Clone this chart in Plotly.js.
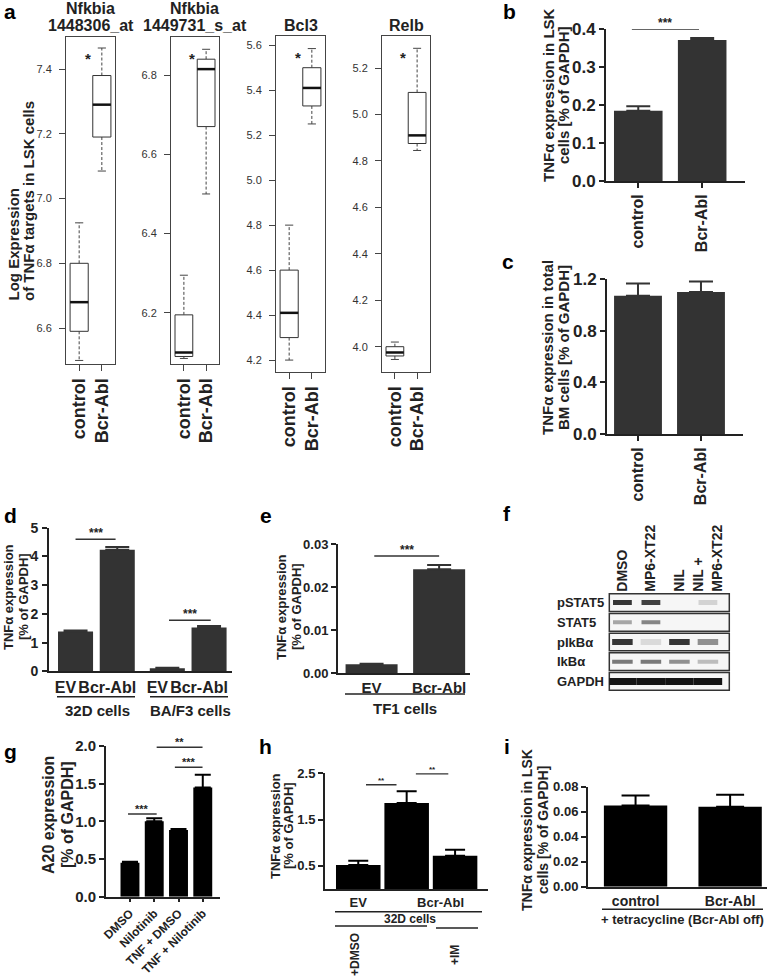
<!DOCTYPE html>
<html><head><meta charset="utf-8">
<script src="https://cdn.plot.ly/plotly-3.0.1.min.js"></script>
<style>html,body{margin:0;padding:0;background:#fff;}#chart{width:778px;height:979px;}</style>
</head><body><div id="chart"></div>
<script>
// ---------------- data ----------------
// panel a : box-plot statistics [control, Bcr-Abl]
const aGenes = ['Nfkbia<br>1448306_at','Nfkbia<br>1449731_s_at','Bcl3','Relb'];
const aCats  = ['control','Bcr-Abl'];
const aLow   = [[6.50,7.085],[6.085,6.50],[4.20,5.25],[3.945,4.845]];
const aQ1    = [[6.59,7.19],[6.09,6.67],[4.30,5.33],[3.96,4.875]];
const aMed   = [[6.68,7.29],[6.10,6.815],[4.41,5.41],[3.975,4.91]];
const aQ3    = [[6.80,7.38],[6.195,6.84],[4.60,5.50],[4.00,5.095]];
const aHigh  = [[6.925,7.465],[6.295,6.865],[4.80,5.585],[4.02,5.285]];
// panel b
const bCats = ['control','Bcr-Abl'];
const bVals = [0.185,0.372];
const bErr  = [0.012,0.005];
// panel c
const cCats = ['control','Bcr-Abl'];
const cVals = [1.07,1.10];
const cErr  = [0.095,0.08];
// panel d
const dCats   = ['EV','Bcr-Abl','EV','Bcr-Abl'];
const dVals   = [1.39,4.23,0.11,1.53];
const dErr    = [0.03,0.10,0.02,0.05];
const dGroups = ['32D cells','BA/F3 cells'];
// panel e
const eCats  = ['EV','Bcr-Abl'];
const eVals  = [0.0021,0.0242];
const eErr   = [0.0001,0.001];
const eGroup = 'TF1 cells';
// panel f : western blot band darkness (0..1), rows x lanes
const fLanes = ['DMSO','MP6-XT22','NIL','NIL +<br>MP6-XT22'];
const fRows  = ['pSTAT5','STAT5','pIkBα','IkBα','GAPDH'];
const fBand  = [[0.85,0.80,0,0.15],[0.35,0.50,0,0],[0.85,0.12,0.85,0.45],[0.55,0.55,0.45,0.25],[1,1,1,1]];
// panel g
const gCats = ['DMSO','Nilotinib','TNF + DMSO','TNF + Nilotinib'];
const gVals = [0.45,1.00,0.885,1.45];
const gErr  = [0.015,0.04,0.015,0.17];
// panel h
const hLabels = ['EV','Bcr-Abl'];
const hVals   = [0.52,1.86,0.72];
const hErr    = [0.09,0.25,0.13];
const hGroup  = '32D cells';
const hTreat  = ['+DMSO','+IM'];
// panel i
const iCats  = ['control','Bcr-Abl'];
const iVals  = [0.065,0.064];
const iErr   = [0.008,0.0095];
const iGroup = '+ tetracycline (Bcr-Abl off)';

// ---------------- layout helpers ----------------
const W=778,H=979;
const X=p=>p/W, Y=p=>1-p/H;
const FONT='Liberation Sans, Arial, Helvetica, sans-serif';
const layout={width:W,height:H,autosize:false,margin:{l:0,r:0,t:0,b:0},paper_bgcolor:'#fff',plot_bgcolor:'rgba(0,0,0,0)',
  showlegend:false,annotations:[],shapes:[],font:{family:FONT,color:'#222'}};
const traces=[];
const axName=(n,c)=>c+'axis'+(n===1?'':n);
const ref=(n,c)=>c+(n===1?'':n);
function setAxes(n,box,xo,yo){
  layout[axName(n,'x')]=Object.assign({domain:[X(box[0]),X(box[1])],anchor:ref(n,'y'),showgrid:false,zeroline:false,fixedrange:true},xo);
  layout[axName(n,'y')]=Object.assign({domain:[Y(box[3]),Y(box[2])],anchor:ref(n,'x'),showgrid:false,zeroline:false,fixedrange:true},yo);
}
const bold=(s)=>({family:FONT,size:s,color:'#222',weight:'bold'});
function txt(x,y,text,size,o){
  layout.annotations.push(Object.assign({xref:'paper',yref:'paper',x:X(x),y:Y(y),text:text,showarrow:false,
    xanchor:'center',yanchor:'middle',font:bold(size)},o||{}));
}
function vtxt(x,y,text,size,o){ txt(x,y,text,size,Object.assign({textangle:-90},o||{})); }
function pline(x0,x1,y,w){
  layout.shapes.push({type:'line',xref:'paper',yref:'paper',x0:X(x0),x1:X(x1),y0:Y(y),y1:Y(y),line:{color:'#222',width:w||1.5}});
}
function sig(n,x0,x1,y,text,size,shift){
  layout.shapes.push({type:'line',xref:ref(n,'x'),yref:ref(n,'y'),x0:x0,x1:x1,y0:y,y1:y,line:{color:'#333',width:1.5}});
  layout.annotations.push({xref:ref(n,'x'),yref:ref(n,'y'),x:(x0+x1)/2,y:y,text:text,showarrow:false,yanchor:'bottom',
    yshift:shift||-3,font:bold(size)});
}
const axBase={showline:true,linewidth:2,linecolor:'#222',ticks:'outside',ticklen:5,tickwidth:2,tickcolor:'#222'};
function barPanel(n,box,xs,vals,errs,color,bw,ew,xo,yo){
  setAxes(n,box,Object.assign({},axBase,xo),Object.assign({},axBase,yo));
  traces.push({type:'bar',x:xs,y:vals,width:bw,xaxis:ref(n,'x'),yaxis:ref(n,'y'),marker:{color:color,line:{width:0}},
    error_y:{type:'data',symmetric:false,array:errs,arrayminus:errs.map(()=>0),color:color,thickness:2,width:ew},hoverinfo:'skip'});
}

// ---------------- panel a : box plots ----------------
const aBoxes=[[66,115,37,364],[171,219,37,364],[276,325,36,372],[382,430,36,372]];
const aRanges=[[6.489,7.499],[6.071,6.896],[4.147,5.641],[3.891,5.338]];
aGenes.forEach((g,k)=>{
  const n=k+1, box=aBoxes[k];
  setAxes(n,box,
    {range:[0.42,2.58],tickmode:'array',tickvals:[1,2],ticktext:aCats,tickangle:-90,ticks:'outside',ticklen:6,tickcolor:'#444',
     showline:true,mirror:true,linecolor:'#444',linewidth:1,tickfont:bold(18)},
    {range:aRanges[k],dtick:0.2,tick0:0,tickformat:'.1f',ticks:'outside',ticklen:6,tickcolor:'#444',
     showline:true,mirror:true,linecolor:'#444',linewidth:1,tickfont:{family:FONT,size:11,color:'#333'},ticklabelstandoff:5});
  const rx=[],ry=[],mx=[],my=[],wx=[],wy=[],cx=[],cy=[];
  [0,1].forEach(j=>{
    const c=j+1;
    rx.push(c-.4,c+.4,c+.4,c-.4,c-.4,null); ry.push(aQ1[k][j],aQ1[k][j],aQ3[k][j],aQ3[k][j],aQ1[k][j],null);
    mx.push(c-.4,c+.4,null); my.push(aMed[k][j],aMed[k][j],null);
    wx.push(c,c,null,c,c,null); wy.push(aQ3[k][j],aHigh[k][j],null,aQ1[k][j],aLow[k][j],null);
    cx.push(c-.18,c+.18,null,c-.18,c+.18,null); cy.push(aHigh[k][j],aHigh[k][j],null,aLow[k][j],aLow[k][j],null);
  });
  const xr=ref(n,'x'), yr=ref(n,'y');
  traces.push({type:'scatter',mode:'lines',x:wx,y:wy,xaxis:xr,yaxis:yr,line:{color:'#444',width:1,dash:'3px,2px'},hoverinfo:'skip'});
  traces.push({type:'scatter',mode:'lines',x:cx,y:cy,xaxis:xr,yaxis:yr,line:{color:'#444',width:1},hoverinfo:'skip'});
  traces.push({type:'scatter',mode:'lines',x:rx,y:ry,xaxis:xr,yaxis:yr,fill:'toself',fillcolor:'#fff',line:{color:'#333',width:1},hoverinfo:'skip'});
  traces.push({type:'scatter',mode:'lines',x:mx,y:my,xaxis:xr,yaxis:yr,line:{color:'#111',width:2.5},hoverinfo:'skip'});
  const cxp=(box[0]+box[1])/2;
  const lines=g.split('<br>');
  if(lines.length===2){ txt(cxp,9,lines[0],16); txt(cxp,26,lines[1],16); } else { txt(cxp,25,lines[0],16); }
  layout.annotations.push({xref:xr,yref:'paper',x:1.38,y:Y(box[2]+11),text:'*',showarrow:false,font:bold(15)});
});
vtxt(13,303,'Log Expression',15,{yanchor:'bottom'});
vtxt(28,303,'of TNFα targets in LSK cells',15,{yanchor:'bottom'});

// ---------------- panel b ----------------
barPanel(5,[606,745,29.3,181],[1,2],bVals,bErr,'#333',0.76,12,
  {range:[0.495,2.67],tickmode:'array',tickvals:[1,2],ticktext:bCats,tickangle:-90,tickfont:bold(16)},
  {range:[0,0.4],dtick:0.1,tickformat:'.1f',tickfont:bold(17)});
sig(5,0.9,1.95,0.4,'***',12);
vtxt(548,95,'TNFα expression in LSK',15); vtxt(563,95,'cells [% of GAPDH]',15);

// ---------------- panel c ----------------
barPanel(6,[607,743,279,434],[1,2],cVals,cErr,'#333',0.76,12,
  {range:[0.508,2.667],tickmode:'array',tickvals:[1,2],ticktext:cCats,tickangle:-90,tickfont:bold(16)},
  {range:[0,1.2],dtick:0.4,tickformat:'.1f',tickfont:bold(17)});
sig(6,1.0,2.0,1.24,'n.s.',14,-1);
vtxt(547,348,'TNFα expression in total',15); vtxt(563,348,'BM cells [% of GAPDH]',15);

// ---------------- panel d ----------------
const dX=dVals.map((v,i)=>i+1+(i>=2?0.2:0));
barPanel(7,[49,232,527.7,671.4],dX,dVals,dErr,'#333',0.84,12,
  {range:[0.364,4.75],tickmode:'array',tickvals:dX.map(v=>v-0.24),ticktext:dCats,ticks:'',tickfont:bold(16)},
  {range:[0,5],dtick:1,tickfont:bold(14),ticklabelstandoff:1});
sig(7,1.0,1.96,4.6,'***',12);
sig(7,3.24,4.24,1.78,'***',12);
pline(57,135,696.7); pline(150,228,696.7);
txt(97,710,dGroups[0],15); txt(190,710,dGroups[1],15);
vtxt(8,597,'TNFα expression',13); vtxt(23,597,'[% of GAPDH]',13);

// ---------------- panel e ----------------
barPanel(8,[338,470,544.3,673.3],[1,2],eVals,eErr,'#333',0.77,12,
  {range:[0.503,2.457],tickmode:'array',tickvals:[1,2],ticktext:eCats,ticks:'',tickfont:bold(15)},
  {range:[0,0.03],dtick:0.01,tickformat:'.2f',tickfont:bold(13)});
sig(8,1.04,2.0,0.0273,'***',12);
pline(345,465,694);
txt(405,708,eGroup,15);
vtxt(281,607,'TNFα expression',13); vtxt(296,607,'[% of GAPDH]',13);

// ---------------- panel f : western blot ----------------
setAxes(9,[609.3,729.3,592.7,691.3],
  {range:[0.54,4.75],side:'top',tickmode:'array',tickvals:[1,2,3,4],ticktext:fLanes,tickangle:-90,ticks:'',showline:false,tickfont:bold(14)},
  {range:[4.5,-0.5],showticklabels:false,ticks:'',showline:false});
const fThick=[5,4,6,4,7], fHalf=[0.33,0.33,0.36,0.36,0.5];
fRows.forEach((r,ri)=>{
  layout.shapes.push({type:'rect',xref:'x9 domain',yref:'y9',x0:0,x1:1,y0:ri-0.45,y1:ri+0.45,layer:'below',
    fillcolor:'#f6f6f6',line:{color:'#333',width:1.5}});
  layout.annotations.push({xref:'paper',yref:'y9',x:X(555),y:ri,text:r,showarrow:false,xanchor:'left',yanchor:'middle',font:bold(13)});
  fBand[ri].forEach((d,li)=>{
    if(d<=0) return;
    const g=Math.round(245-d*225);
    traces.push({type:'scatter',mode:'lines',x:[li+1-fHalf[ri],li+1+fHalf[ri]],y:[ri,ri],xaxis:'x9',yaxis:'y9',
      line:{color:`rgb(${g},${g},${g})`,width:fThick[ri]},hoverinfo:'skip'});
  });
});

// ---------------- panel g ----------------
barPanel(10,[106,220,746,896.7],[1,2,3,4],gVals,gErr,'#000',0.78,8,
  {range:[0.012,4.71],tickmode:'array',tickvals:[1,2,3,4],ticktext:gCats,tickangle:-45,ticklen:3,tickfont:bold(12)},
  {range:[0,2],dtick:0.5,tickformat:'.1f',tickfont:bold(15)});
sig(10,0.92,2.1,1.098,'***',11);
sig(10,2.85,3.99,1.718,'***',11);
sig(10,2.1,3.99,1.983,'**',11);
vtxt(48,815,'A20 expression',16); vtxt(67,815,'[% of GAPDH]',16);

// ---------------- panel h ----------------
barPanel(11,[325,488,773.3,889],[1,2,3],hVals,hErr,'#000',0.92,10,
  {range:[0.313,3.68],tickmode:'array',tickvals:[1,2.7],ticktext:hLabels,ticks:'',tickfont:bold(13)},
  {range:[0,2.5],tickmode:'array',tickvals:[0.5,1.5,2.5],tickformat:'.1f',tickfont:bold(13)});
sig(11,1.16,1.79,2.25,'**',8,-2);
sig(11,2.19,2.86,2.49,'**',8,-2);
pline(335,482,911.7); pline(335,427,926); pline(436,478,928);
txt(410,919,hGroup,12);
vtxt(355,955,hTreat[0],12); vtxt(455,955,hTreat[1],12);
vtxt(275,826,'TNFα expression',13); vtxt(288,826,'[% of GAPDH]',13);

// ---------------- panel i ----------------
barPanel(12,[588,767,786.7,886.7],[1,2],iVals,iErr,'#000',0.67,14,
  {range:[0.497,2.39],tickmode:'array',tickvals:[1,2],ticktext:iCats,ticks:'',tickfont:bold(14)},
  {range:[0,0.08],dtick:0.02,tickformat:'.2f',tickfont:bold(13)});
pline(602,763,909.3);
txt(682,919,iGroup,13);
vtxt(527,830,'TNFα expression in LSK',14); vtxt(543,830,'cells [% of GAPDH]',14);

// ---------------- panel letters ----------------
[['a',10,12],['b',509,11],['c',508,262],['d',10,515],['e',266,515],['f',507,513],['g',10,751],['h',265,746],['i',507,746]]
  .forEach(p=>txt(p[1],p[2],p[0],21,{font:{family:FONT,size:21,color:'#000',weight:'bold'}}));

Plotly.newPlot('chart',traces,layout,{staticPlot:true,displayModeBar:false});
</script></body></html>
